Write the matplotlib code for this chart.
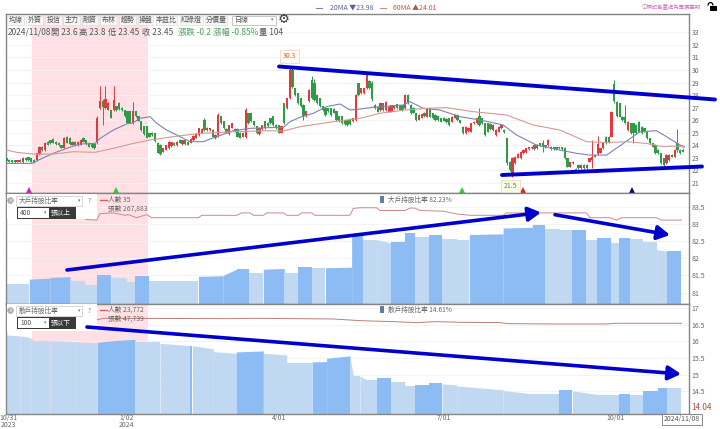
import matplotlib
matplotlib.use("Agg")
import matplotlib.pyplot as plt
from matplotlib.patches import Rectangle, Circle, Arc

plt.rcParams['font.family'] = ['Noto Sans CJK TC', 'DejaVu Sans']

W, H = 720, 429
X_MIN, X_MAX = -0.18, 248.0

# ---- price panel ----
opens = [23.0,22.85,22.8,22.8,22.7,22.85,22.65,23.0,23.05,22.95,
 22.85,22.83,23.3,23.9,23.6,24.3,24.4,24.5,24.3,24.2,
 24.0,23.8,24.7,24.6,24.05,24.3,24.0,24.05,24.6,24.4,
 24.2,24.1,24.1,24.25,27.0,27.55,27.0,26.85,26.8,26.8,
 27.1,27.4,27.0,26.8,26.7,26.7,25.75,26.7,26.3,25.9,
 25.5,25.5,24.95,25.0,24.95,24.2,24.05,23.5,23.65,23.75,
 23.95,24.2,24.0,24.45,24.1,24.4,24.3,24.2,24.43,24.6,
 24.82,25.0,26.02,25.2,25.2,25.22,24.56,24.82,26.3,25.9,
 25.3,24.9,25.4,25.3,25.3,25.0,24.7,24.7,26.55,26.55,
 25.9,25.5,24.9,25.3,25.9,25.8,26.15,26.3,25.62,25.6,
 25.0,27.35,26.95,27.75,30.0,28.55,28.15,27.75,27.2,26.3,
 27.5,29.2,28.95,28.0,27.75,27.1,26.95,26.95,26.95,26.9,
 26.7,26.3,26.3,26.0,26.0,26.1,25.9,26.02,28.95,28.15,
 28.15,28.55,29.13,28.95,27.22,27.08,26.82,27.35,26.82,26.68,
 26.68,26.95,27.27,27.2,27.2,26.95,28.01,27.22,27.0,26.55,
 26.05,26.2,26.6,26.29,26.95,26.55,26.42,26.3,26.15,26.2,
 26.1,26.15,25.89,26.2,26.42,26.0,25.49,24.96,25.1,25.09,
 25.75,25.75,26.3,26.15,25.75,25.75,25.7,25.22,24.82,
 25.09,25.35,25.22,24.56,22.7,21.76,22.56,23.0,22.96,23.36,23.44,
 23.7,23.76,24.02,23.76,24.16,24.16,24.0,24.02,23.89,23.85,
 23.85,23.85,23.85,23.76,22.96,22.3,22.56,22.15,22.43,22.17,
 22.43,22.17,22.7,22.8,23.2,23.3,23.4,23.76,24.69,24.7,
 24.69,28.87,27.48,27.35,26.29,26.29,25.22,25.75,25.75,25.62,
 25.89,25.49,25.35,25.09,24.56,24.16,24.02,23.63,23.36,22.96,
 22.56,22.83,23.23,23.09,24.16,23.63,23.6]
closes = [22.75,22.7,22.65,22.65,22.8,22.7,23.0,22.8,22.8,22.7,
 22.65,23.36,23.9,23.6,24.2,24.05,24.15,24.2,24.1,24.0,
 23.8,24.6,24.2,24.1,24.3,24.0,24.3,24.45,24.3,24.1,
 23.9,23.85,23.75,26.2,27.5,27.05,27.7,27.4,26.2,27.6,
 26.8,26.9,26.8,26.3,25.8,25.8,26.7,26.3,25.95,25.2,
 24.9,24.6,24.7,24.8,24.35,23.4,23.3,23.75,24.0,24.3,
 24.25,24.0,24.3,24.2,24.4,24.1,24.05,24.5,24.77,24.9,
 25.36,25.3,25.22,25.4,25.35,24.69,24.82,26.42,25.76,25.35,
 25.0,25.6,25.75,25.1,24.7,24.6,25.0,26.85,25.75,25.9,
 25.6,24.95,25.36,25.6,25.36,25.5,25.76,25.62,25.36,25.0,
 25.5,25.76,27.75,30.0,28.68,28.0,27.35,27.1,26.3,26.7,
 28.4,27.75,27.6,27.35,27.1,26.8,26.4,26.7,26.4,26.6,
 26.0,25.9,25.75,25.7,25.62,25.7,26.15,28.01,28.01,28.55,
 28.55,29.61,28.55,27.69,26.95,26.68,27.35,26.82,27.48,27.08,
 27.2,27.2,26.95,26.85,26.82,28.01,27.35,26.55,26.6,26.02,
 26.42,26.47,26.3,26.95,26.29,26.15,26.02,26.0,25.89,25.95,
 25.85,25.62,26.29,26.42,26.02,25.8,24.96,25.49,25.4,25.75,
 25.89,26.15,25.62,25.75,24.82,25.09,25.3,25.62,25.22,
 25.49,25.62,25.04,22.56,22.03,23.01,23.09,23.3,23.49,23.63,23.76,
 23.85,23.89,23.71,24.02,23.97,23.89,23.85,24.42,23.71,23.7,
 23.7,23.75,23.7,22.96,22.3,22.64,22.7,22.0,22.17,22.43,
 22.17,22.43,22.96,23.09,23.1,24.1,23.76,24.16,24.16,24.2,
 26.69,27.5,26.3,26.29,26.02,25.75,25.89,24.96,25.0,24.96,
 25.09,24.96,25.09,24.56,24.16,23.89,23.36,23.36,22.56,22.43,
 23.23,23.23,23.09,23.63,23.63,23.36,23.45]
wick_bars = [33,34,35,36,39,46,72,77,87,103,104,108,111,112,127,131,133,145,172,182,184,195,203,213,215,221,225,228,239,244,246]
wick_high = [26.3,28.75,27.7,28.75,28.75,27.45,26.2,26.6,26.95,30.3,30.3,27.3,29.5,29.3,28.1,29.8,29.1,28.1,27.0,24.6,23.1,24.45,23.9,24.4,24.75,29.2,27.2,25.8,23.0,25.3,23.8]
wick_low = [24.1,26.9,25.6,26.9,26.7,25.7,25.1,24.7,24.6,27.7,28.6,26.0,27.7,27.5,25.9,28.5,27.5,26.9,25.5,22.4,21.5,23.5,22.9,22.2,23.2,27.4,25.7,24.15,22.3,23.5,23.45]

ma20_x = [0,9.2,11.6,17,21.9,26.7,32.2,34,38.9,43.7,46.1,48.5,52.2,54.6,58.2,63.1,66.7,71.6,76.4,82.5,88.5,94.6,100.7,103.1,106.7,111.6,116.4,121.3,124.9,128.5,133.3,144.3,146.7,151.5,157.6,164.9,172.1,180.6,185.5,192.7,201.2,207.3,212.1,218.2,224.3,230.3,236.4,240,244.9,246.5]
ma20_y = [22.56,22.56,22.82,23.36,23.76,24.1,24.15,24.55,25.22,25.7,25.8,26.15,26.28,25.75,25.22,24.69,24.29,24.29,24.69,25.16,25.35,25.4,25.43,25.88,26.23,26.55,27.08,27.29,26.81,26.89,27.03,27.21,27.48,26.95,26.81,26.28,26.02,25.62,24.82,24.02,23.62,23.36,23.22,23.22,24.15,25.08,25.16,24.69,24.02,23.9]
ma60_x = [0,3.7,9.8,17,24.3,32.2,38.9,46.1,52.2,60.7,70.4,82.5,94.6,100.7,106.7,118.8,128.5,135.8,144.9,152.7,160,169.7,181.8,191.5,201.2,210.9,218.2,225.5,232.7,238.8,243.7,246.5]
ma60_y = [23.62,23.44,23.3,23.3,23.49,23.44,23.76,24.15,24.42,24.69,24.95,25.08,25.16,25.14,25.48,25.88,26.15,26.55,26.81,26.95,27.0,26.68,26.41,25.62,25.22,24.29,24.21,24.29,24.15,23.89,23.94,23.85]
signal_bars = [8.2,39.8,165.5,188,227.5]
signal_colors = ['#d020c0','#30d030','#30d030','#e02030','#101070']
price_ticks = list(range(21, 34))

# ---- large-holder panel ----
big_start = [-0.2,8.3,15.8,23.1,28.5,33,38,43.7,46.7,52,69.8,78.8,83.7,88.3,93.4,101,106.1,111.1,116,125.5,128.5,129.7,134.6,139.7,144.9,148.5,153.6,158.4,163.7,168.3,180.6,191.5,195.8,201.2,205.8,210.9,214.8,219.7,222.7,226.7,231.5,236.4,240.3]
big_end = [8.3,15.8,23.1,28.5,32.8,38,43.7,46.7,52,69.8,78.8,83.7,88.3,93.4,101,106.1,111.1,116,125.5,128.5,129.7,134.6,139.7,144.9,148.5,153.6,158.4,163.7,168.3,180.6,191.5,195.8,201.2,205.8,210.9,214.8,219.7,222.7,226.7,231.5,236.4,240.3,245.4]
big_v0 = [81.255,81.39,81.44,81.36,81.22,81.50,81.45,81.31,81.47,81.34,81.47,81.50,81.68,81.57,81.68,81.57,81.74,81.70,81.72,82.64,82.69,82.54,82.54,82.47,82.74,82.62,82.67,82.57,82.54,82.69,82.88,82.98,82.85,82.81,82.83,82.54,82.58,82.45,82.59,82.57,82.47,82.25,82.22]
big_v1 = [81.255,81.42,81.46,81.34,81.22,81.50,81.43,81.31,81.47,81.34,81.49,81.68,81.68,81.57,81.70,81.57,81.74,81.70,81.74,82.69,82.69,82.54,82.45,82.47,82.74,82.62,82.67,82.57,82.54,82.71,82.90,82.98,82.85,82.81,82.83,82.54,82.58,82.45,82.59,82.57,82.47,82.20,82.22]
big_dark = [0,1,1,0,0,1,0,0,1,0,1,1,1,0,1,0,1,0,1,1,1,0,0,1,1,0,1,0,0,1,1,1,0,0,1,0,1,0,1,0,0,0,1]
big_line_x = [28.9,32.8,34,38.9,43.1,44.3,47.3,51,52.8,69.8,71,83.7,85.5,88.5,89.8,93.4,94.6,100.7,101.9,106.1,107.3,111,112.2,124.9,126.1,128.5,134.6,135.8,144.9,146.7,148.5,150.3,158.8,163.7,168.5,180.6,181.8,210.9,212.1,219.4,221.8,223.7,236.4,238.2,245.5]
big_line_y = [83.13,83.11,83.30,83.32,83.25,83.27,83.18,83.27,83.18,83.18,83.25,83.25,83.32,83.32,83.25,83.25,83.32,83.32,83.25,83.25,83.32,83.32,83.25,83.25,83.45,83.47,83.47,83.39,83.39,83.46,83.46,83.39,83.37,83.29,83.25,83.25,83.32,83.32,83.18,83.18,83.11,83.18,83.18,83.11,83.11]
big_ticks = [81, 81.5, 82, 82.5, 83, 83.5]
big_labels = ['81', '81.5', '82', '82.5', '83', '83.5']

# ---- small-holder panel ----
small_start = [-0.2,4.9,8.5,9.8,15.8,25,33,38.9,46.7,55.8,66.7,67.6,75.2,83.5,93.4,101.9,111.1,116.4,124.9,126.1,128.5,130.9,134.6,139.7,144.9,148.5,153.6,158.4,163.7,180.6,191.5,201,205.8,215.2,222.7,226.7,231.5,237,240.3]
small_end = [4.9,8.5,9.8,15.8,25,32.8,38.9,46.7,55.8,66.7,67.6,75.2,83.5,93.4,101.9,111.1,116.4,124.9,126.1,128.5,130.9,134.6,139.7,144.9,148.5,153.6,158.4,163.7,180.6,191.5,201,205.8,215.2,222.7,226.7,231.5,237,240.3,245.4]
small_v0 = [16.19,16.16,16.12,16.02,16.02,15.99,15.97,16.02,15.98,15.94,15.87,15.87,15.69,15.68,15.64,15.34,15.38,15.49,15.56,14.96,14.96,14.84,14.90,14.78,14.66,14.69,14.74,14.72,14.66,14.52,14.41,14.55,14.51,14.39,14.41,14.38,14.50,14.60,14.59]
small_v1 = [16.16,16.12,16.02,16.02,15.99,15.95,16.02,16.06,15.98,15.87,15.87,15.77,15.64,15.71,15.59,15.34,15.39,15.56,14.96,14.96,14.84,14.84,14.90,14.78,14.66,14.69,14.74,14.69,14.54,14.42,14.41,14.55,14.40,14.39,14.41,14.38,14.50,14.60,14.59]
small_dark = [0,0,0,0,0,0,1,1,0,0,1,0,0,1,0,0,1,1,0,0,0,0,1,0,0,1,1,0,0,0,0,1,0,0,1,0,1,1,0]
small_line_x = [32.8,35.2,82.5,89.8,118.8,128.5,140.6,149.1,156.4,164.9,179.4,182.4,198.8,218.2,221.2,245.5]
small_line_y = [16.64,16.69,16.68,16.69,16.67,16.62,16.59,16.56,16.59,16.57,16.56,16.53,16.52,16.52,16.54,16.54]
small_ticks = [14.5, 15, 15.5, 16, 16.5, 17]
small_labels = ['14.5', '15', '15.5', '16', '16.5', '17']

date_bars = [0.55, 43.8, 99, 159, 221.6]
date_labels = ['10/31', '1/02', '4/01', '7/01', '10/01']
year_bars = [0.55, 43.8]
year_labels = ['2023', '2024']
tab_names = ['均線', '外資', '投信', '主力', '融資', '布林', '趨勢', '操盤', '本益比', '紅綠燈', '分價量']
tab_left = [7, 26, 45, 63, 82, 100, 119, 138, 156, 180, 205]
tab_right = [24, 43, 62, 80, 98, 117, 136, 153, 177, 203, 227]

PINK = '#ffe1e5'; LIGHT = '#c1d8f2'; DARK = '#8dbcf4'; LINE_RED = '#c98a8a'
EDGE = '#858585'; TXT = '#666666'; BLUE = '#0000cc'

fig = plt.figure(figsize=(W / 100, H / 100), dpi=100, facecolor='white')


def panel(top, bottom, ylim, ticks, labels):
    ax = fig.add_axes([6 / W, 1 - bottom / H, (688.5 - 6) / W, (bottom - top) / H])
    ax.set_xlim(X_MIN, X_MAX)
    ax.set_ylim(*ylim)
    ax.axvspan(9.3, 51.4, color=PINK, lw=0, zorder=0)
    ax.set_yticks(ticks)
    ax.set_yticklabels(labels, fontsize=5.0, color=TXT)
    ax.yaxis.tick_right()
    ax.tick_params(axis='y', length=0, pad=2.2)
    ax.set_xticks([])
    ax.grid(axis='y', color='#f1f1f1', lw=0.6, zorder=0.5)
    ax.set_axisbelow(True)
    for s in ax.spines.values():
        s.set_color(EDGE)
        s.set_linewidth(1.0)
    return ax


# price
ax1 = panel(13.5, 193, (20.2, 34.5), price_ticks, [str(t) for t in price_ticks])
xs = list(range(len(opens)))
for x, o, c in zip(xs, opens, closes):
    col = '#e4383c' if c >= o else '#2f9a48'
    hi, lo = max(o, c) + 0.05, min(o, c) - 0.05
    if x in wick_bars:
        k = wick_bars.index(x)
        hi, lo = wick_high[k], wick_low[k]
    ax1.vlines(x, lo, hi, color=col, lw=0.7, zorder=3)
    ax1.bar(x, max(abs(c - o), 0.07), bottom=min(o, c), width=0.8, color=col, lw=0, zorder=3)
ax1.plot(ma20_x, ma20_y, color='#7f82b0', lw=0.8, zorder=4)
ax1.plot(ma60_x, ma60_y, color='#d49a96', lw=0.8, zorder=4)
for x, col in zip(signal_bars, signal_colors):
    ax1.plot(x, 20.47, marker='^', ms=4.2, color=col, mew=0, zorder=5, clip_on=False)
ax1.annotate('30.3', (103, 30.3), xytext=(0, 7), textcoords='offset points', ha='center', va='center',
             fontsize=5.0, color='#d9693a', zorder=6,
             bbox=dict(boxstyle='square,pad=0.4', fc='#fffaf4', ec='#f0d9c0', lw=0.6))
ax1.annotate('21.5', (184, 21.5), xytext=(-1.5, -7), textcoords='offset points', ha='center', va='center',
             fontsize=5.0, color='#4f9a4f', zorder=6,
             bbox=dict(boxstyle='square,pad=0.4', fc='#fbfbe8', ec='#e4e4c0', lw=0.6))

# large holders
ax2 = panel(193, 303.5, (80.68, 83.9), big_ticks, big_labels)
for a, b, v0, v1, d in zip(big_start, big_end, big_v0, big_v1, big_dark):
    ax2.fill_between([a, b], [v0, v1], 80.0, color=DARK if d else LIGHT, lw=0, zorder=2)
ax2.plot(big_line_x, big_line_y, color=LINE_RED, lw=0.7, zorder=3)

# small holders
ax3 = panel(303.5, 413.5, (13.83, 17.135), small_ticks, small_labels)
for a, b, v0, v1, d in zip(small_start, small_end, small_v0, small_v1, small_dark):
    ax3.fill_between([a, b], [v0, v1], 13.0, color=DARK if d else LIGHT, lw=0, zorder=2)
ax3.plot(small_line_x, small_line_y, color='#b98078', lw=0.7, zorder=3)
ax3.set_xticks(date_bars)
ax3.set_xticklabels(date_labels, fontsize=5.0, color=TXT)
ax3.tick_params(axis='x', length=0, pad=0.6)
for x, s in zip(year_bars, year_labels):
    ax3.annotate(s, (x, 0), xycoords=ax3.get_xaxis_transform(), xytext=(0, -8.6),
                 textcoords='offset points', ha='center', va='center', fontsize=5.0, color=TXT,
                 annotation_clip=False)

# ---- overlay: interface chrome and hand-drawn annotation, in picture pixels ----
ov = fig.add_axes([0, 0, 1, 1], zorder=10, facecolor='none')
ov.set_xlim(0, W); ov.set_ylim(H, 0); ov.axis('off')


def t(x, y, s, size=6.3, color=TXT, ha='left', **kw):
    ov.text(x, y, s, fontsize=size, color=color, ha=ha, va='center', **kw)


def rect(x0, y0, x1, y1, fc='white', ec='none', lw=0.6, z=1):
    ov.add_patch(Rectangle((x0, y0), x1 - x0, y1 - y0, fc=fc, ec=ec, lw=lw, zorder=z))


# header legend
ov.plot([316, 322], [7.5, 7.5], color='#7f82b0', lw=0.8)
t(330, 7.5, '20MA ▼23.98', 5.0, '#5a5f98')
ov.plot([380, 386], [7.5, 7.5], color='#d08a86', lw=0.8)
t(393, 7.5, '60MA ▲24.01', 5.0, '#c05050')
t(642, 6, 'ⓘ標記色蓋處為專屬聲明', 3.9, '#d46cc0')
rect(710, 5.5, 717, 11, fc='black')
ov.add_patch(Arc((710.5, 5.5), 5, 6, theta1=180, theta2=360, color='black', lw=0.9))

# tabs
for a, b, name in zip(tab_left, tab_right, tab_names):
    rect(a, 15.5, b, 24.5, fc='#f6f6f6', ec='#dcdcdc', lw=0.5)
    t((a + b) / 2, 20, name, 5.0, '#555555', ha='center')
rect(232, 15.5, 276, 24.5, fc='white', ec='#bdbdbd', lw=0.6)
t(235, 20, '日線', 5.0, '#555555')
t(272, 20, '▾', 3.6, '#777777', ha='center')
t(284, 19.5, '⚙', 9.5, '#333333', ha='center', family='DejaVu Sans')

# quote line
t(7.5, 32, '2024/11/08', 6.0, '#555555')
t(51, 32, '開 23.6', 6.0, '#555555')
t(79, 32, '高 23.8', 6.0, '#555555')
t(108, 32, '低 23.45', 6.0, '#555555')
t(142, 32, '收 23.45', 6.0, '#555555')
t(178, 32, '漲跌 -0.2', 6.0, '#4f9a5f')
t(213, 32, '漲幅 -0.85%', 6.0, '#4f9a5f')
t(259, 32, '量 104', 6.0, '#555555')

# panel legends
for y0, name, lots, cond, holders, shares, ratio, rb in [
        (194, '大戶持股比率', '400', '張以上', '人數 35', '張數 267,883', '大戶持股比率 82.23%', 219),
        (304, '散戶持股比率', '100', '張以下', '人數 23,772', '張數 47,739', '散戶持股比率 14.61%', 331)]:
    rect(6.8, y0 + 0.2, 97, rb, fc='white')
    ov.add_patch(Circle((10.5, y0 + 6.5), 3.3, fc='#a8a8a8', ec='none', zorder=2))
    t(10.5, y0 + 6.5, '×', 4.4, 'white', ha='center', zorder=3)
    rect(16, y0 + 2, 82, y0 + 12, fc='white', ec='#c8c8c8', lw=0.5, z=2)
    t(19, y0 + 7, name, 4.8, '#666666', zorder=3)
    t(79, y0 + 7, '▾', 3.4, '#777777', ha='center', zorder=3)
    rect(17, y0 + 13, 76, y0 + 25, fc='#3a3a3a', z=2)
    rect(18, y0 + 14, 49, y0 + 24, fc='white', z=3)
    t(20, y0 + 19, lots, 4.8, '#555555', zorder=4)
    t(45, y0 + 19, '▾', 3.4, '#777777', ha='center', zorder=4)
    t(60.5, y0 + 19, cond, 4.8, 'white', ha='center', zorder=4)
    t(89.5, y0 + 7, '?', 5, '#888888', ha='center', zorder=3)
    ov.plot([100, 107], [y0 + 5.5, y0 + 5.5], color='#d06060', lw=1.0, zorder=3)
    t(108, y0 + 5.5, holders, 4.9, '#666666', zorder=3)
    t(108, y0 + 15, shares, 4.9, '#666666', zorder=3)
    rect(380, y0 + 2, 383.5, y0 + 9, fc='#5f7f9f', z=3)
    t(388, y0 + 5.5, ratio, 4.75, '#666666', zorder=3)

# last values
t(691.5, 408, '14.04', 5.8, '#a84a3c', zorder=5)
rect(662, 414, 702, 425, fc='white', ec='#777777', lw=0.6, z=5)
t(682, 419.5, '2024/11/08', 4.9, '#555555', ha='center', zorder=6)

# thick blue hand-drawn lines and arrows
ov.plot([279, 715], [66.5, 99.5], color=BLUE, lw=2.8, solid_capstyle='round', zorder=8)
ov.plot([502, 702], [175, 166.5], color=BLUE, lw=2.8, solid_capstyle='round', zorder=8)
arrow = dict(arrowstyle='-|>,head_length=0.75,head_width=0.42', color=BLUE, lw=2.6, shrinkA=0, shrinkB=0)
for start, tip in [((67, 270), (541, 212.5)), ((555, 214.7), (670, 235)), ((87, 327), (681, 374))]:
    ov.annotate('', xy=tip, xytext=start, arrowprops=arrow, zorder=8)

fig.savefig('out.png', dpi=100, facecolor='white')
